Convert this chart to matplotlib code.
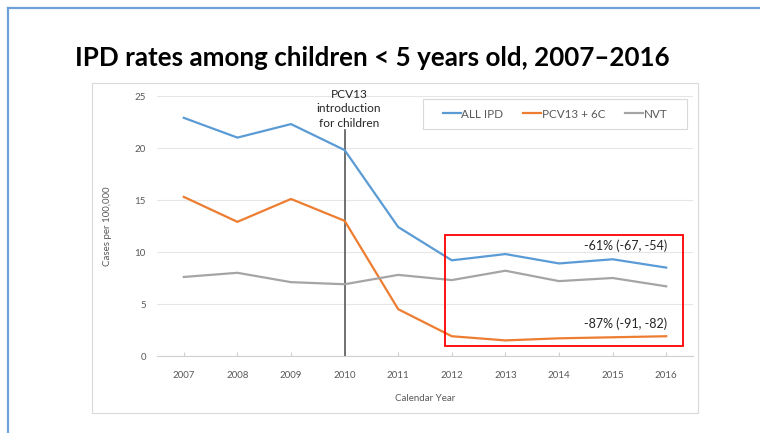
import numpy as np
import matplotlib.pyplot as plt
from matplotlib.patches import Rectangle
from matplotlib.lines import Line2D

years = [2007, 2008, 2009, 2010, 2011, 2012, 2013, 2014, 2015, 2016]
all_ipd = [22.9, 21.0, 22.3, 19.8, 12.4, 9.2, 9.8, 8.9, 9.3, 8.5]
pcv13_6c = [15.3, 12.9, 15.1, 13.0, 4.5, 1.9, 1.5, 1.7, 1.8, 1.9]
nvt = [7.6, 8.0, 7.1, 6.9, 7.8, 7.3, 8.2, 7.2, 7.5, 6.7]
series_names = ["ALL IPD", "PCV13 + 6C", "NVT"]
colors = ["#5B9BD5", "#ED7D31", "#A5A5A5"]

intro_year = 2010
intro_label = "PCV13\nintroduction\nfor children"
all_change = "-61% (-67, -54)"
pcv_change = "-87% (-91, -82)"

W, H = 760, 433

plt.rcParams['font.family'] = ['Lato', 'DejaVu Sans']

fig = plt.figure(figsize=(7.6, 4.33), dpi=100)

# slide border lines (top and left)
fig.add_artist(Line2D([8 / W, 8 / W], [0, 1 - 8 / H], color="#6FA0D8", lw=1.6))
fig.add_artist(Line2D([8 / W, 1], [1 - 8 / H, 1 - 8 / H], color="#6FA0D8", lw=1.6))

# chart frame
fig.add_artist(Rectangle((92 / W, 1 - 413 / H), (698 - 92) / W, (413 - 83) / H,
                         fill=False, ec="#D9D9D9", lw=0.8))

fig.text(75 / W, 1 - 58 / H, "IPD rates among children < 5 years old, 2007\u20132016",
         fontsize=18.7, fontweight="bold", va="center", ha="left")

ax = fig.add_axes([157 / W, 1 - 356 / H, (693 - 157) / W, (356 - 96) / H])

for vals, name, c in zip([all_ipd, pcv13_6c, nvt], series_names, colors):
    ax.plot(years, vals, color=c, lw=1.6, label=name, solid_joinstyle="round")

ax.set_xlim(2006.5, 2016.5)
ax.set_ylim(0, 25)
ax.set_xticks(years)
ax.set_yticks([0, 5, 10, 15, 20, 25])
ax.grid(axis="y", color="#E6E6E6", lw=0.8)
ax.set_axisbelow(True)
for s in ["top", "right", "left"]:
    ax.spines[s].set_visible(False)
ax.spines["bottom"].set_color("#D0D0D0")
ax.tick_params(axis="y", length=0, labelsize=7, colors="#595959", pad=8)
ax.tick_params(axis="x", direction="in", length=3, color="#D0D0D0",
               labelsize=7, labelcolor="#595959", pad=11)
ax.set_xlabel("Calendar Year", fontsize=7, color="#595959", labelpad=10)
ax.set_ylabel("Cases per 100,000", fontsize=7, color="#595959", labelpad=16.5)

# vaccine introduction marker
ax.plot([intro_year, intro_year], [0, 21.7], color="#595959", lw=1.2, zorder=1)
ax.text(intro_year + 0.08, 25.7, intro_label, ha="center", va="top", fontsize=8.6,
        color="#262626", linespacing=1.4, clip_on=False)

# post-introduction period box
ax.add_patch(Rectangle((2011.87, 1.0), 2016.31 - 2011.87, 11.6 - 1.0,
                       fill=False, ec="#FF0000", lw=1.3, zorder=5))
ax.text(2016.02, 10.6, all_change, ha="right", va="center", fontsize=9, color="#262626")
ax.text(2016.02, 3.1, pcv_change, ha="right", va="center", fontsize=9, color="#262626")

# legend with its own frame
lx0, lx1, ly0, ly1 = 423, 687, 99, 129
ax.add_patch(Rectangle((lx0 / W, 1 - ly1 / H), (lx1 - lx0) / W, (ly1 - ly0) / H,
                       transform=fig.transFigure, clip_on=False,
                       fc="white", ec="#D9D9D9", lw=0.8, zorder=6))
leg = ax.legend(loc="center", bbox_to_anchor=(((lx0 + lx1) / 2 - 157) / 536,
                                              (356 - (ly0 + ly1) / 2) / 260),
                ncol=3, fontsize=8.4, frameon=False, handlelength=1.55,
                handletextpad=0.05, columnspacing=1.7, borderpad=0, labelcolor="#595959")
leg.set_zorder(7)

fig.savefig("out.png", dpi=100)
